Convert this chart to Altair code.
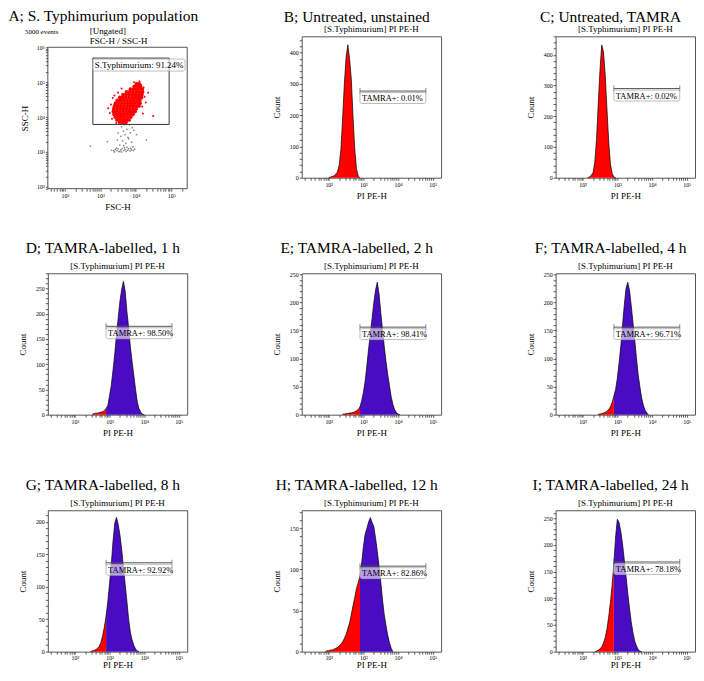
import altair as alt
import pandas as pd

FONT = "Liberation Serif"
RED = "#ff0000"
PURPLE = "#4a0cc2"
INK = "#000000"
FRAME = "#555555"

STEP = 0.05          # histogram bin width (log10 units)
GATE_LO = 2.9        # TAMRA+ gate limits (log10)
GATE_HI = 4.8
HIST_X = [1.22, 5.24]  # log10 x-range of histogram panels
A_X = [1.52, 5.45]     # log10 FSC-H range
A_Y = [1.95, 6.0]      # log10 SSC-H range
SUBHEAD = "[S.Typhimurium] PI PE-H"

# ---------------- Panel A : FSC-H / SSC-H dot plot (log10 values) ----------------
A_TITLE = "A; S. Typhimurium population"
A_EVENTS = "5000 events"
A_HEADER = ["[Ungated]", "FSC-H / SSC-H"]
A_GATE_LABEL = "S.Typhimurium: 91.24%"
A_GATE_X = [2.79, 4.94]
A_GATE_Y = [3.79, 5.69]
A_LABEL_RIGHT = 5.39

A_RED_ROWS = [
    (4.95, [4.02, 4.10]),
    (4.88, [3.96, 4.05, 4.13]),
    (4.80, [3.85, 3.93, 4.02, 4.10, 4.18]),
    (4.72, [3.74, 3.83, 3.92, 4.01, 4.10, 4.19]),
    (4.64, [3.64, 3.72, 3.81, 3.90, 3.99, 4.08, 4.17]),
    (4.56, [3.55, 3.63, 3.72, 3.81, 3.90, 3.99, 4.08, 4.16]),
    (4.48, [3.48, 3.57, 3.66, 3.75, 3.84, 3.93, 4.02, 4.11]),
    (4.40, [3.43, 3.52, 3.61, 3.70, 3.79, 3.88, 3.97, 4.06, 4.12]),
    (4.32, [3.40, 3.49, 3.58, 3.67, 3.76, 3.85, 3.94, 4.03, 4.09]),
    (4.24, [3.38, 3.47, 3.56, 3.65, 3.74, 3.83, 3.92, 4.01]),
    (4.16, [3.37, 3.46, 3.55, 3.64, 3.73, 3.82, 3.91, 3.98]),
    (4.08, [3.39, 3.48, 3.57, 3.66, 3.75, 3.84, 3.92]),
    (4.00, [3.42, 3.51, 3.60, 3.69, 3.78, 3.86]),
    (3.92, [3.47, 3.56, 3.65, 3.74, 3.81]),
    (3.85, [3.55, 3.64, 3.72]),
]
A_RED_STRAY = [(3.30, 4.36), (3.27, 4.12), (3.33, 3.95), (4.25, 4.58), (4.28, 4.42),
               (4.22, 4.85), (4.10, 5.02), (3.95, 5.00), (4.49, 4.03), (3.45, 3.83),
               (3.62, 3.80), (4.18, 4.30), (3.50, 4.70), (3.60, 4.82), (4.35, 4.70),
               (3.22, 4.25), (4.20, 4.10), (3.35, 4.55), (4.15, 4.92), (3.40, 4.62)]
A_GREY = [(3.32, 3.05), (3.38, 3.03), (3.42, 3.07), (3.47, 3.04), (3.50, 3.09),
          (3.55, 3.02), (3.58, 3.06), (3.62, 3.10), (3.66, 3.04), (3.70, 3.07),
          (3.73, 3.02), (3.77, 3.05), (3.80, 3.09), (3.84, 3.03), (3.88, 3.06),
          (3.93, 3.04), (3.60, 3.00), (3.68, 3.12), (3.45, 3.11), (3.75, 3.13),
          (3.55, 3.20), (3.72, 3.25), (3.63, 3.32), (3.80, 3.38), (3.58, 3.45),
          (3.70, 3.50), (3.85, 3.55), (3.65, 3.60), (3.75, 3.65), (3.90, 3.70),
          (3.60, 3.72), (3.82, 3.78), (3.68, 3.78), (3.95, 3.62), (3.50, 3.55),
          (3.78, 3.42), (3.88, 3.28), (3.48, 3.35), (4.02, 3.50), (3.66, 3.18),
          (3.92, 3.15), (2.72, 3.17), (4.30, 3.35), (3.20, 3.30), (3.52, 3.01),
          (3.86, 3.11), (3.40, 3.00), (3.97, 3.08)]

# ---------------- Histogram panels (counts per 0.05-log10 bin) ----------------
B_TITLE = "B; Untreated, unstained"
B_LABEL = "TAMRA+: 0.01%"
B_START = 2.00
B_COUNTS = [0, 2, 4, 6, 11, 18, 40, 90, 190, 300, 385, 425, 380, 315, 195, 90, 28, 5, 0]

C_TITLE = "C; Untreated, TAMRA"
C_LABEL = "TAMRA+: 0.02%"
C_START = 2.15
C_COUNTS = [0, 3, 8, 16, 50, 125, 240, 350, 432, 410, 335, 225, 120, 45, 14, 2, 0]

D_TITLE = "D; TAMRA-labelled, 1 h"
D_LABEL = "TAMRA+: 98.50%"
D_START = 2.50
D_COUNTS = [1, 2, 3, 3, 4, 5, 6, 8, 12, 18, 38, 58, 88, 120, 158, 192, 225, 248, 264,
            245, 205, 172, 135, 105, 78, 50, 25, 12, 5, 1, 0]

E_TITLE = "E; TAMRA-labelled, 2 h"
E_LABEL = "TAMRA+: 98.41%"
E_START = 2.40
E_COUNTS = [1, 1, 2, 2, 3, 3, 4, 5, 7, 9, 14, 25, 40, 60, 88, 118, 145, 172, 200, 222,
            236, 215, 182, 152, 122, 95, 72, 52, 32, 18, 9, 4, 1, 0]

F_TITLE = "F; TAMRA-labelled, 4 h"
F_LABEL = "TAMRA+: 96.71%"
F_START = 2.45
F_COUNTS = [1, 1, 2, 3, 4, 6, 9, 14, 22, 33, 45, 65, 92, 122, 160, 195, 225, 236, 222,
            195, 165, 135, 102, 72, 50, 30, 17, 8, 3, 0]

G_TITLE = "G; TAMRA-labelled, 8 h"
G_LABEL = "TAMRA+: 92.92%"
G_START = 2.45
G_COUNTS = [0, 1, 2, 3, 5, 8, 14, 24, 38, 55, 77, 105, 134, 170, 198, 207, 196, 180,
            158, 130, 104, 78, 50, 30, 18, 10, 4, 1, 0]

H_TITLE = "H; TAMRA-labelled, 12 h"
H_LABEL = "TAMRA+: 82.86%"
H_START = 1.90
H_COUNTS = [0, 1, 1, 2, 2, 3, 4, 5, 7, 9, 12, 16, 21, 28, 35, 45, 56, 66, 77, 84,
            92, 108, 128, 143, 150, 158, 163, 157, 152, 138, 122, 104, 85, 63, 45, 32,
            20, 11, 4, 0]

I_TITLE = "I; TAMRA-labelled, 24 h"
I_LABEL = "TAMRA+: 78.18%"
I_START = 2.35
I_COUNTS = [0, 1, 3, 5, 9, 16, 26, 42, 65, 92, 125, 165, 215, 248, 242, 225, 202, 172,
            142, 110, 82, 56, 36, 20, 11, 4, 1, 0]

# y-axis maxima, tick steps and gate heights (counts)
PANELS = {
    "B": dict(title=B_TITLE, start=B_START, counts=B_COUNTS, ymax=452, major=100, minor=20, gate_y=277, label=B_LABEL),
    "C": dict(title=C_TITLE, start=C_START, counts=C_COUNTS, ymax=460, major=100, minor=20, gate_y=290, label=C_LABEL),
    "D": dict(title=D_TITLE, start=D_START, counts=D_COUNTS, ymax=280, major=50, minor=10, gate_y=175, label=D_LABEL),
    "E": dict(title=E_TITLE, start=E_START, counts=E_COUNTS, ymax=252, major=50, minor=10, gate_y=156, label=E_LABEL),
    "F": dict(title=F_TITLE, start=F_START, counts=F_COUNTS, ymax=252, major=50, minor=10, gate_y=156, label=F_LABEL),
    "G": dict(title=G_TITLE, start=G_START, counts=G_COUNTS, ymax=218, major=50, minor=10, gate_y=137, label=G_LABEL),
    "H": dict(title=H_TITLE, start=H_START, counts=H_COUNTS, ymax=172, major=50, minor=10, gate_y=104, label=H_LABEL),
    "I": dict(title=I_TITLE, start=I_START, counts=I_COUNTS, ymax=265, major=50, minor=10, gate_y=168, label=I_LABEL),
}

SUPER = {1: "¹", 2: "²", 3: "³", 4: "⁴", 5: "⁵", 6: "⁶"}

W, H = 140, 142
A_SHIFT = 11   # panel A's frame sits lower, under its two-line header

AXIS_STYLE = dict(grid=False, domain=False, tickColor="#333333", tickWidth=0.8, tickSize=2.5,
                  labelFont=FONT, labelFontSize=6, labelColor=INK,
                  labelOverlap=False, labelFlush=False,
                  titleFont=FONT, titleFontSize=9, titleFontWeight="normal", titleColor=INK)


def log_axis(title, rng, label_pad, title_pad, **kw):
    lo, hi = 10 ** rng[0], 10 ** rng[1]
    vals, majors = [], []
    for d in range(1, 7):
        for m in range(1, 10):
            v = m * 10 ** d
            if lo <= v <= hi:
                vals.append(v)
                if m == 1:
                    majors.append(v)
    expr = " : ".join(f"datum.value == {v} ? '10{SUPER[len(str(v)) - 1]}'" for v in majors) + " : ''"
    return alt.Axis(values=vals, labelExpr=expr, title=title,
                    labelPadding=label_pad, titlePadding=title_pad, **AXIS_STYLE, **kw)


def count_axis(ymax, major, minor):
    vals = list(range(0, int(ymax) + 1, minor))
    return alt.Axis(values=vals, labelExpr=f"datum.value % {major} == 0 ? datum.label : ''",
                    title="Count", labelPadding=1, titlePadding=8, **AXIS_STYLE)


def panel_title(text, offset):
    return alt.TitleParams(text=text, font=FONT, fontSize=15.5, fontWeight="normal",
                           color=INK, anchor="middle", frame="bounds", offset=offset)


def gate_layers(xs, ys, xax, yax, x1, x2, y, label):
    gate = pd.DataFrame({"x1": [x1], "x2": [x2], "y": [y], "label": [label]})
    ends = pd.DataFrame({"x": [x1, x2], "y": [y, y]})
    Xg = alt.X("x1:Q", scale=xs, axis=xax)
    Yg = alt.Y("y:Q", scale=ys, axis=yax)
    return [
        alt.Chart(gate).mark_rule(color=FRAME, strokeWidth=1).encode(x=Xg, x2="x2:Q", y=Yg),
        alt.Chart(ends).mark_tick(orient="vertical", size=6, thickness=1, color=FRAME).encode(
            x=alt.X("x:Q", scale=xs, axis=xax), y=Yg),
        alt.Chart(gate).mark_rect(height=11, yOffset=7, fill="white", fillOpacity=0.6,
                                  stroke="#aaaaaa", strokeWidth=0.8, cornerRadius=2).encode(
            x=Xg, x2="x2:Q", y=Yg),
        alt.Chart(gate).mark_text(align="left", baseline="middle", dx=2, dy=7, font=FONT,
                                  fontSize=8.5, color=INK).encode(x=Xg, y=Yg, text="label:N"),
    ]


def hist_panel(key, title_offset, label_pad, title_pad):
    p = PANELS[key]
    lx = [p["start"] + i * STEP for i in range(len(p["counts"]))]
    df = pd.DataFrame({"lx": lx, "x": [10 ** v for v in lx], "count": p["counts"]})
    xs = alt.Scale(type="log", domain=[10 ** HIST_X[0], 10 ** HIST_X[1]], nice=False)
    ys = alt.Scale(domain=[0, p["ymax"]], nice=False)
    xax = log_axis("PI PE-H", HIST_X, label_pad, title_pad)
    yax = count_axis(p["ymax"], p["major"], p["minor"])
    X = alt.X("x:Q", scale=xs, axis=xax)
    Y = alt.Y("count:Q", scale=ys, axis=yax)
    red = df[df.lx <= GATE_LO + 1e-9]
    pur = df[df.lx >= GATE_LO - 1e-9]
    layers = [alt.Chart(red).mark_area(color=RED).encode(x=X, y=Y)]
    if pur["count"].sum() > 0:
        layers.append(alt.Chart(pur).mark_area(color=PURPLE).encode(x=X, y=Y))
    layers.append(alt.Chart(df).mark_line(color=INK, strokeWidth=0.7).encode(x=X, y=Y))
    layers += gate_layers(xs, ys, xax, yax, 10 ** GATE_LO, 10 ** GATE_HI, p["gate_y"], p["label"])
    head = pd.DataFrame({"x": [10 ** ((HIST_X[0] + HIST_X[1]) / 2)], "y": [p["ymax"]], "t": [SUBHEAD]})
    layers.append(alt.Chart(head).mark_text(baseline="bottom", dy=-2, font=FONT, fontSize=9, color=INK)
                  .encode(x=alt.X("x:Q", scale=xs, axis=xax), y=alt.Y("y:Q", scale=ys, axis=yax), text="t:N"))
    return alt.layer(*layers).properties(width=W, height=H, title=panel_title(p["title"], title_offset))


def scatter_panel():
    xs = alt.Scale(type="log", domain=[10 ** A_X[0], 10 ** A_X[1]], nice=False)
    ys = alt.Scale(type="log", domain=[10 ** A_Y[0], 10 ** A_Y[1]], nice=False,
                   range=[H + A_SHIFT, A_SHIFT])
    xax = log_axis("FSC-H", A_X, 1, 4, offset=A_SHIFT)
    yax = log_axis("SSC-H", A_Y, 1, 7, titleY=A_SHIFT + H / 2)
    X = alt.X("x:Q", scale=xs, axis=xax)
    Y = alt.Y("y:Q", scale=ys, axis=yax)
    X1 = alt.X("x1:Q", scale=xs, axis=xax)
    Y1 = alt.Y("y1:Q", scale=ys, axis=yax)
    Y2 = alt.Y("y2:Q", scale=ys, axis=yax)
    red_pts = [(x, y) for y, row in A_RED_ROWS for x in row]
    red = pd.DataFrame({"x": [10 ** x for x, _ in red_pts], "y": [10 ** y for _, y in red_pts]})
    stray = pd.DataFrame({"x": [10 ** x for x, _ in A_RED_STRAY], "y": [10 ** y for _, y in A_RED_STRAY]})
    grey = pd.DataFrame({"x": [10 ** x for x, _ in A_GREY], "y": [10 ** y for _, y in A_GREY]})
    frame = pd.DataFrame({"fa": [10 ** A_X[0]], "fb": [10 ** A_X[1]],
                          "fc": [10 ** A_Y[0]], "fd": [10 ** A_Y[1]]})
    gate = pd.DataFrame({"x1": [10 ** A_GATE_X[0]], "x2": [10 ** A_GATE_X[1]],
                         "y1": [10 ** A_GATE_Y[0]], "y2": [10 ** A_GATE_Y[1]],
                         "xr": [10 ** A_LABEL_RIGHT], "label": [A_GATE_LABEL]})
    texts = pd.DataFrame({"x": [10 ** 2.70, 10 ** 2.70, 10 ** 0.875],
                          "y": [10 ** 6.39, 10 ** 6.085, 10 ** 6.39],
                          "t": [A_HEADER[0], A_HEADER[1], A_EVENTS],
                          "s": [9, 9, 7]})
    layers = [
        alt.Chart(grey).mark_circle(size=3, color="#8a8a8a", opacity=1).encode(x=X, y=Y),
        alt.Chart(stray).mark_circle(size=4, color=RED, opacity=1).encode(x=X, y=Y),
        alt.Chart(red).mark_circle(size=15, color=RED, opacity=1).encode(x=X, y=Y),
        alt.Chart(frame).mark_rect(filled=False, color=FRAME, strokeWidth=1).encode(
            x=alt.X("fa:Q", scale=xs), x2="fb:Q",
            y=alt.Y("fc:Q", scale=ys), y2="fd:Q"),
        alt.Chart(gate).mark_rect(filled=False, color="#333333", strokeWidth=1).encode(
            x=X1, x2="x2:Q", y=Y1, y2="y2:Q"),
        alt.Chart(gate).mark_rect(height=12, yOffset=7, fill="white", fillOpacity=0.6,
                                  stroke="#aaaaaa", strokeWidth=0.8, cornerRadius=2).encode(
            x=X1, x2="xr:Q", y=Y2),
        alt.Chart(gate).mark_text(align="left", baseline="middle", dx=2, dy=7, font=FONT,
                                  fontSize=9, color=INK).encode(x=X1, y=Y2, text="label:N"),
        alt.Chart(texts).mark_text(align="left", baseline="alphabetic", font=FONT, color=INK).encode(
            x=X, y=Y, text="t:N", size=alt.Size("s:Q", scale=None, legend=None)),
    ]
    title = alt.TitleParams(text=A_TITLE, font=FONT, fontSize=15.5, fontWeight="normal",
                            color=INK, anchor="start", dx=-12, offset=2)
    return alt.layer(*layers).properties(width=W, height=H, title=title,
                                         view=alt.ViewBackground(strokeOpacity=0))


panels = [scatter_panel(),
          hist_panel("B", 0, 1, 4), hist_panel("C", 0, 1, 4),
          hist_panel("D", 6, 1, 4), hist_panel("E", 6, 1, 4), hist_panel("F", 6, 1, 4),
          hist_panel("G", 6, 0, 0), hist_panel("H", 6, 0, 0), hist_panel("I", 6, 0, 0)]

chart = alt.concat(*panels, columns=3, spacing={"row": 96, "column": 115},
                   bounds="flush").properties(
    padding={"left": 0, "top": -1, "right": 0, "bottom": 0}
).configure_view(stroke=FRAME, strokeWidth=1)

chart.save("out.html", embed_options={"renderer": "svg", "actions": False})
